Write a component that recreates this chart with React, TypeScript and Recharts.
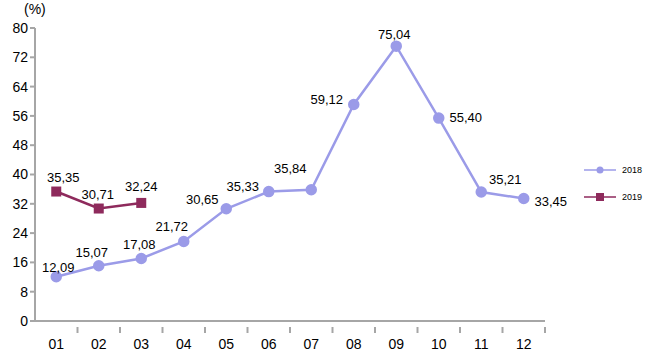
import React from 'react';
import { LineChart, Line, XAxis, YAxis, LabelList } from 'recharts';

const months = ['01', '02', '03', '04', '05', '06', '07', '08', '09', '10', '11', '12'];
const values2018 = [12.09, 15.07, 17.08, 21.72, 30.65, 35.33, 35.84, 59.12, 75.04, 55.4, 35.21, 33.45];
const values2019: (number | null)[] = [35.35, 30.71, 32.24, null, null, null, null, null, null, null, null, null];
const yTicks = [0, 8, 16, 24, 32, 40, 48, 56, 64, 72, 80];

const data = months.map((m, i) => ({ month: m, y2018: values2018[i], y2019: values2019[i] }));

const C2018 = '#9b9be8';
const C2019 = '#8e2a5c';
const AXIS = '#a6a6a6';
const FONT = '"Liberation Sans", Arial, sans-serif';
const HALF = 510 / 12 / 2;

// label offsets (dx, dy to baseline) relative to the point, per month
const off2018 = [[2, -5], [-7, -9], [-2, -9], [-12, -10], [-24, -5], [-26, -1], [-21, -17], [-27, 0], [-2, -7], [27, 4], [24, -8], [27, 8]];
const off2019 = [[7, -10], [-1, -10], [0, -12]];

const fmt = (v: number) => v.toFixed(2).replace('.', ',');

function makeLabel(offsets: number[][]) {
  return (props: any) => {
    const { x, y, value, index } = props;
    if (value == null) return null;
    const [dx, dy] = offsets[index] || [0, -12];
    return (
      <text x={x + dx} y={y + dy} textAnchor="middle" fontSize={13} fontFamily={FONT} fill="#000">
        {fmt(value)}
      </text>
    );
  };
}

const SquareDot = (props: any) => {
  const { cx, cy, value } = props;
  if (value == null || cx == null) return null;
  return <rect x={cx - 5} y={cy - 5} width={10} height={10} fill={C2019} />;
};

const XTick = (props: any) => {
  const { x, y, payload } = props;
  return (
    <g>
      <line x1={x + HALF} y1={y - 2} x2={x + HALF} y2={y + 4} stroke={AXIS} strokeWidth={2} />
      <text x={x} y={y + 20} textAnchor="middle" fontSize={14} fontFamily={FONT} fill="#000">
        {payload.value}
      </text>
    </g>
  );
};

const LegendBox = () => (
  <svg width={70} height={50} style={{ position: 'absolute', left: 580, top: 160 }}>
    <line x1={4} y1={10} x2={36} y2={10} stroke={C2018} strokeWidth={1.5} />
    <circle cx={20} cy={10} r={3.5} fill={C2018} />
    <text x={42} y={13} fontSize={9} fontFamily={FONT} fill="#000">2018</text>
    <line x1={4} y1={37} x2={36} y2={37} stroke={C2019} strokeWidth={1.5} />
    <rect x={16} y={33} width={8} height={8} fill={C2019} />
    <text x={42} y={40} fontSize={9} fontFamily={FONT} fill="#000">2019</text>
  </svg>
);

export default function App() {
  return (
    <div style={{ position: 'absolute', left: 0, top: 0, width: 650, height: 360, background: '#fff' }}>
      <div style={{ position: 'absolute', left: 24, top: 1, fontSize: 14, fontFamily: FONT }}>(%)</div>
      <LineChart width={650} height={360} data={data} margin={{ top: 28, right: 105, bottom: 9, left: 0 }}>
        <XAxis
          dataKey="month"
          height={30}
          stroke={AXIS}
          strokeWidth={2}
          tickLine={false}
          tick={<XTick />}
          interval={0}
          padding={{ left: HALF, right: HALF }}
        />
        <YAxis
          width={35}
          domain={[0, 80]}
          ticks={yTicks}
          stroke={AXIS}
          strokeWidth={2}
          tickSize={5}
          tick={{ fontSize: 14, fontFamily: FONT, fill: '#000' }}
          interval={0}
        />
        <Line
          type="linear"
          dataKey="y2018"
          stroke={C2018}
          strokeWidth={2.5}
          dot={{ r: 4.5, fill: C2018, stroke: C2018 }}
          isAnimationActive={false}
        >
          <LabelList dataKey="y2018" content={makeLabel(off2018)} />
        </Line>
        <Line
          type="linear"
          dataKey="y2019"
          stroke={C2019}
          strokeWidth={2.5}
          dot={<SquareDot />}
          connectNulls={false}
          isAnimationActive={false}
        >
          <LabelList dataKey="y2019" content={makeLabel(off2019)} />
        </Line>
      </LineChart>
      <LegendBox />
    </div>
  );
}
